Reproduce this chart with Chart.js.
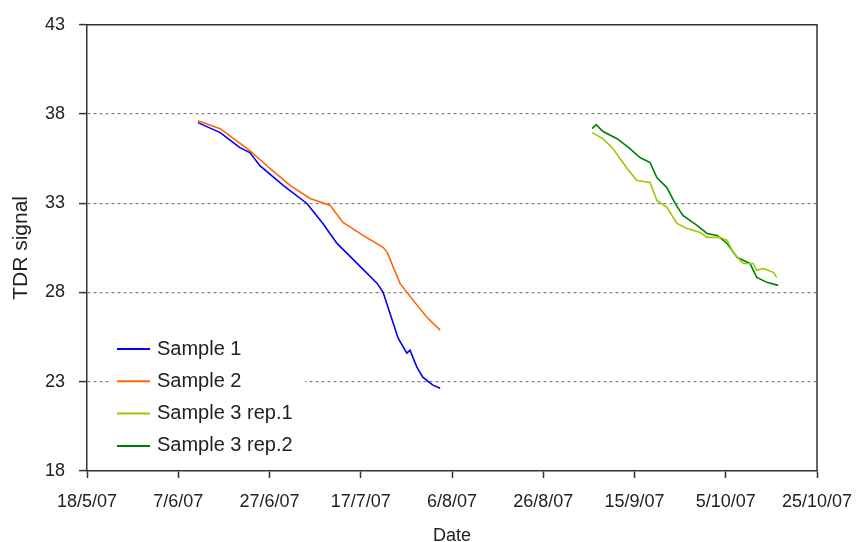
<!DOCTYPE html>
<html lang="en">
	<head>
		<meta charset="utf-8" />
		<script src="https://cdn.jsdelivr.net/npm/chart.js@4/dist/chart.umd.min.js"></script>
		<style>
			body { margin: 0; background: #fff; }
		</style>
	</head>
	<body>
		<canvas id="myChart" width="858" height="542"></canvas>
		<script>
			// x values are days since 18/5/07
			const startDate = new Date(2007, 4, 18);
			const seriesNames = ["Sample 1", "Sample 2", "Sample 3 rep.1", "Sample 3 rep.2"];
			const seriesColors = ["#0000ff", "#ff6600", "#99cc00", "#008000"];

			const s1Days = [24.3, 29.2, 33.5, 35.7, 37.9, 43.0, 48.2, 51.7, 54.8, 59.2, 63.6, 64.9, 66.4, 68.2, 70.1, 70.8, 72.3, 73.6, 75.8, 77.4];
			const s1Values = [37.52, 36.96, 36.12, 35.84, 35.11, 34.0, 32.99, 31.87, 30.75, 29.63, 28.51, 28.01, 26.84, 25.44, 24.6, 24.77, 23.82, 23.26, 22.81, 22.64];

			const s2Days = [24.3, 29.2, 35.7, 40.1, 44.5, 48.9, 53.3, 56.1, 60.5, 64.9, 65.8, 68.6, 71.5, 74.5, 77.4];
			const s2Values = [37.63, 37.18, 35.95, 34.95, 34.0, 33.27, 32.88, 31.93, 31.2, 30.53, 30.25, 28.51, 27.56, 26.61, 25.89];

			const s3aDays = [110.7, 113.1, 115.3, 116.8, 118.4, 120.5, 123.4, 124.9, 127.1, 129.3, 131.5, 134.4, 135.9, 138.7, 140.3, 141.6, 143.8, 146.0, 146.8, 148.2, 150.4, 151.2];
			const s3aValues = [36.96, 36.62, 36.06, 35.51, 34.95, 34.28, 34.16, 33.16, 32.77, 31.87, 31.59, 31.37, 31.09, 31.09, 30.92, 30.25, 29.63, 29.63, 29.24, 29.35, 29.13, 28.85];

			const s3bDays = [110.7, 111.6, 113.1, 116.2, 119.0, 121.2, 123.4, 124.9, 127.1, 128.9, 130.6, 133.7, 135.9, 138.1, 140.3, 142.5, 145.3, 146.8, 149.0, 151.5];
			const s3bValues = [37.18, 37.41, 37.02, 36.62, 36.06, 35.56, 35.28, 34.44, 33.88, 32.99, 32.32, 31.76, 31.31, 31.2, 30.75, 29.97, 29.63, 28.85, 28.57, 28.4];

			const yTicks = [18, 23, 28, 33, 38, 43];

			function pts(days, vals) {
				return days.map((d, i) => ({ x: d, y: vals[i] }));
			}

			function fmtDate(v) {
				const d = new Date(startDate.getFullYear(), startDate.getMonth(), startDate.getDate() + v);
				return d.getDate() + "/" + (d.getMonth() + 1) + "/" + String(d.getFullYear()).slice(2);
			}

			const allData = [pts(s1Days, s1Values), pts(s2Days, s2Values), pts(s3aDays, s3aValues), pts(s3bDays, s3bValues)];

			// top and right border of the plot area
			const frame = {
				id: "frame",
				afterDatasetsDraw(chart) {
					const { ctx, chartArea: a } = chart;
					ctx.save();
					ctx.strokeStyle = "#333";
					ctx.lineWidth = 1.5;
					ctx.beginPath();
					ctx.moveTo(a.left, a.top);
					ctx.lineTo(a.right, a.top);
					ctx.lineTo(a.right, a.bottom);
					ctx.stroke();
					ctx.restore();
				}
			};

			// legend sitting inside the plot, lower left
			const innerLegend = {
				id: "innerLegend",
				beforeDatasetsDraw(chart) {
					const { ctx, chartArea: a } = chart;
					ctx.save();
					ctx.fillStyle = "#fff";
					ctx.fillRect(a.left + 23, a.bottom - 140, 195, 132);
					ctx.font = "20px 'Liberation Sans', Arial, sans-serif";
					ctx.textBaseline = "middle";
					chart.data.datasets.forEach((ds, i) => {
						const y = a.bottom - 122 + i * 32.3;
						ctx.strokeStyle = ds.borderColor;
						ctx.lineWidth = 2;
						ctx.beginPath();
						ctx.moveTo(a.left + 30, y);
						ctx.lineTo(a.left + 63, y);
						ctx.stroke();
						ctx.fillStyle = "#222";
						ctx.fillText(ds.label, a.left + 70, y);
					});
					ctx.restore();
				}
			};

			const ctx = document.getElementById("myChart").getContext("2d");
			const myChart = new Chart(ctx, {
				type: "line",
				data: {
					datasets: seriesNames.map((name, i) => ({
						label: name,
						data: allData[i],
						borderColor: seriesColors[i],
						backgroundColor: seriesColors[i],
						borderWidth: 1.6,
						pointRadius: 0,
						tension: 0,
						fill: false
					}))
				},
				options: {
					responsive: false,
					animation: false,
					layout: { padding: { top: 24, right: 41, left: 0, bottom: 0 } },
					plugins: {
						legend: { display: false },
						tooltip: { enabled: false }
					},
					scales: {
						x: {
							type: "linear",
							min: 0,
							max: 160,
							afterFit: (s) => {
								s.height = 71;
								s.paddingLeft = 0;
								s.paddingRight = 0;
							},
							ticks: {
								stepSize: 20,
								padding: 13,
								color: "#222",
								font: { family: "'Liberation Sans', Arial, sans-serif", size: 18 },
								maxRotation: 0,
								callback: (v) => fmtDate(v)
							},
							grid: { drawOnChartArea: false, tickLength: 7, tickColor: "#333", tickWidth: 1.5 },
							border: { color: "#333", width: 1.5 },
							title: {
								display: true,
								text: "Date",
								color: "#222",
								font: { family: "'Liberation Sans', Arial, sans-serif", size: 18 },
								padding: { top: 0, bottom: -5 }
							}
						},
						y: {
							min: 18,
							max: 43,
							afterFit: (s) => { s.width = 87; },
							afterBuildTicks: (s) => { s.ticks = yTicks.map((v) => ({ value: v })); },
							ticks: {
								padding: 14,
								color: "#222",
								font: { family: "'Liberation Sans', Arial, sans-serif", size: 18 }
							},
							grid: {
								color: (c) => (c.tick && (c.tick.value === 18 || c.tick.value === 43) ? "rgba(0,0,0,0)" : "#808080"),
								lineWidth: 1.2,
								tickLength: 8,
								tickColor: "#333",
								tickWidth: 1.5
							},
							border: { color: "#333", width: 1.5, dash: [3, 3] },
							title: {
								display: true,
								text: "TDR signal",
								color: "#222",
								font: { family: "'Liberation Sans', Arial, sans-serif", size: 21 },
								padding: { top: 9, bottom: 0 }
							}
						}
					}
				},
				plugins: [innerLegend, frame]
			});
		</script>
	</body>
</html>
